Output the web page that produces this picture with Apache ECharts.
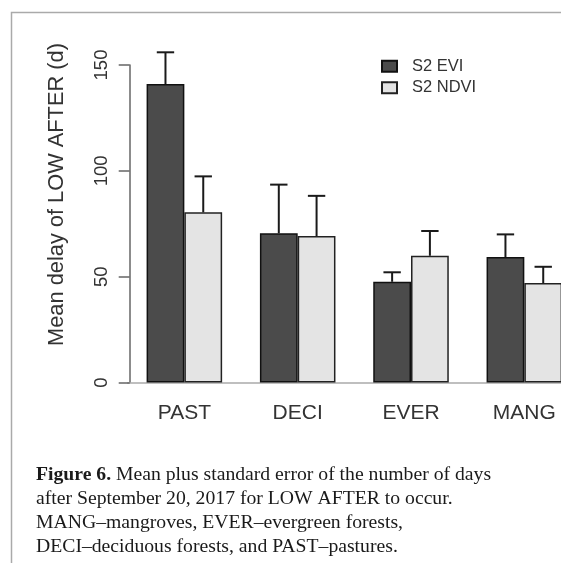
<!DOCTYPE html>
<html><head><meta charset="utf-8">
<script src="https://cdn.jsdelivr.net/npm/echarts@6/dist/echarts.min.js"></script>
<style>html,body{margin:0;padding:0;background:#fff}#c{width:561px;height:563px}</style>
</head><body><div id="c"></div>
<script>
const categories = ['PAST', 'DECI', 'EVER', 'MANG'];
const seriesNames = ['S2 EVI', 'S2 NDVI'];
const eviMean = [141, 70.5, 47.6, 59.3];
const ndviMean = [80.4, 69.2, 59.9, 47.0];
const eviSE = [15, 23, 4.5, 10.7];
const ndviSE = [17, 19, 11.7, 7.7];
const yTicks = [0, 50, 100, 150];
const yTitle = 'Mean delay of LOW AFTER (d)';
const captionLines = [
  '{b|Figure 6.} Mean plus standard error of the number of days',
  'after September 20, 2017 for LOW AFTER to occur.',
  'MANG\u2013mangroves, EVER\u2013evergreen forests,',
  'DECI\u2013deciduous forests, and PAST\u2013pastures.'
];

const SANS = '"Liberation Sans", Arial, sans-serif';
const SERIF = '"Liberation Serif", "Times New Roman", serif';
const DARK = '#4b4b4b', LIGHT = '#e4e4e4';

function errRender(side) {
  return function (params, api) {
    const i = api.value(0), m = api.value(1), se = api.value(2);
    const band = api.size([1, 0])[0];
    const bw = band * (2 / 3) / 2;
    const base = api.coord([i, m]);
    const top = api.coord([i, m + se]);
    const x = base[0] + side * bw / 2;
    const half = bw * 0.23;
    const st = { stroke: '#1a1a1a', lineWidth: 2 };
    return {
      type: 'group',
      children: [
        { type: 'line', shape: { x1: x, y1: base[1], x2: x, y2: top[1] }, style: st },
        { type: 'line', shape: { x1: x - half, y1: top[1], x2: x + half, y2: top[1] }, style: st }
      ]
    };
  };
}

const chart = echarts.init(document.getElementById('c'), null, { renderer: 'canvas' });
chart.setOption({
  backgroundColor: '#fff',
  animation: false,
  grid: { left: 127.7, right: -20, top: 65, bottom: 180.4, containLabel: false, outerBoundsMode: 'none' },
  legend: {
    orient: 'vertical', left: 381, top: 57.8, padding: 0,
    itemWidth: 15, itemHeight: 11, itemGap: 4.5, icon: 'rect',
    data: seriesNames,
    textStyle: { fontFamily: SANS, fontSize: 16.5, color: '#333', lineHeight: 16, padding: [0, 0, 0, 10] }
  },
  xAxis: {
    type: 'category', data: categories,
    axisLine: { show: true, lineStyle: { color: '#aaa', width: 1.5 } },
    axisTick: { show: false },
    axisLabel: { fontFamily: SANS, fontSize: 21, color: '#333', margin: 20 },
    splitLine: { show: false }
  },
  yAxis: {
    type: 'value', min: 0, max: 150, interval: 50, offset: -2,
    axisLine: { show: true, lineStyle: { color: '#666', width: 1.5 } },
    axisTick: { show: true, length: 11, lineStyle: { color: '#666', width: 1.5 } },
    axisLabel: { fontFamily: SANS, fontSize: 18.5, color: '#333', rotate: 90, margin: 18,
      formatter: v => yTicks.includes(v) ? String(v) : '' },
    splitLine: { show: false }
  },
  series: [
    { name: seriesNames[0], type: 'bar', data: eviMean, barGap: '0%', barCategoryGap: '33.34%',
      itemStyle: { color: DARK, borderColor: '#111', borderWidth: 1.5 } },
    { name: seriesNames[1], type: 'bar', data: ndviMean, barGap: '0%', barCategoryGap: '33.34%',
      itemStyle: { color: LIGHT, borderColor: '#222', borderWidth: 1.5 } },
    { type: 'custom', renderItem: errRender(-1), clip: false, z: 5,
      encode: { x: 0, y: 1 }, data: eviMean.map((m, i) => [i, m, eviSE[i]]) },
    { type: 'custom', renderItem: errRender(1), clip: false, z: 5,
      encode: { x: 0, y: 1 }, data: ndviMean.map((m, i) => [i, m, ndviSE[i]]) }
  ],
  graphic: [
    { type: 'polyline', silent: true, shape: { points: [[11.5, 563], [11.5, 12.5], [561, 12.5]] },
      style: { stroke: '#aaa', lineWidth: 1.5, fill: null } },
    { type: 'text', x: 56.7, y: 194.5, rotation: Math.PI / 2,
      style: { text: yTitle, font: '21.8px ' + SANS, fill: '#333', textAlign: 'center', textVerticalAlign: 'middle' } }
  ].concat(captionLines.map((t, k) => ({
    type: 'text', x: 36, y: 465 + k * 23.9,
    style: {
      text: t, fontFamily: SERIF, fontSize: 19.7, fill: '#1a1a1a',
      textVerticalAlign: 'alphabetic', verticalAlign: 'bottom',
      rich: { b: { fontFamily: SERIF, fontSize: 19.7, fontWeight: 'bold', fill: '#1a1a1a' } }
    }
  })))
});
</script></body></html>
